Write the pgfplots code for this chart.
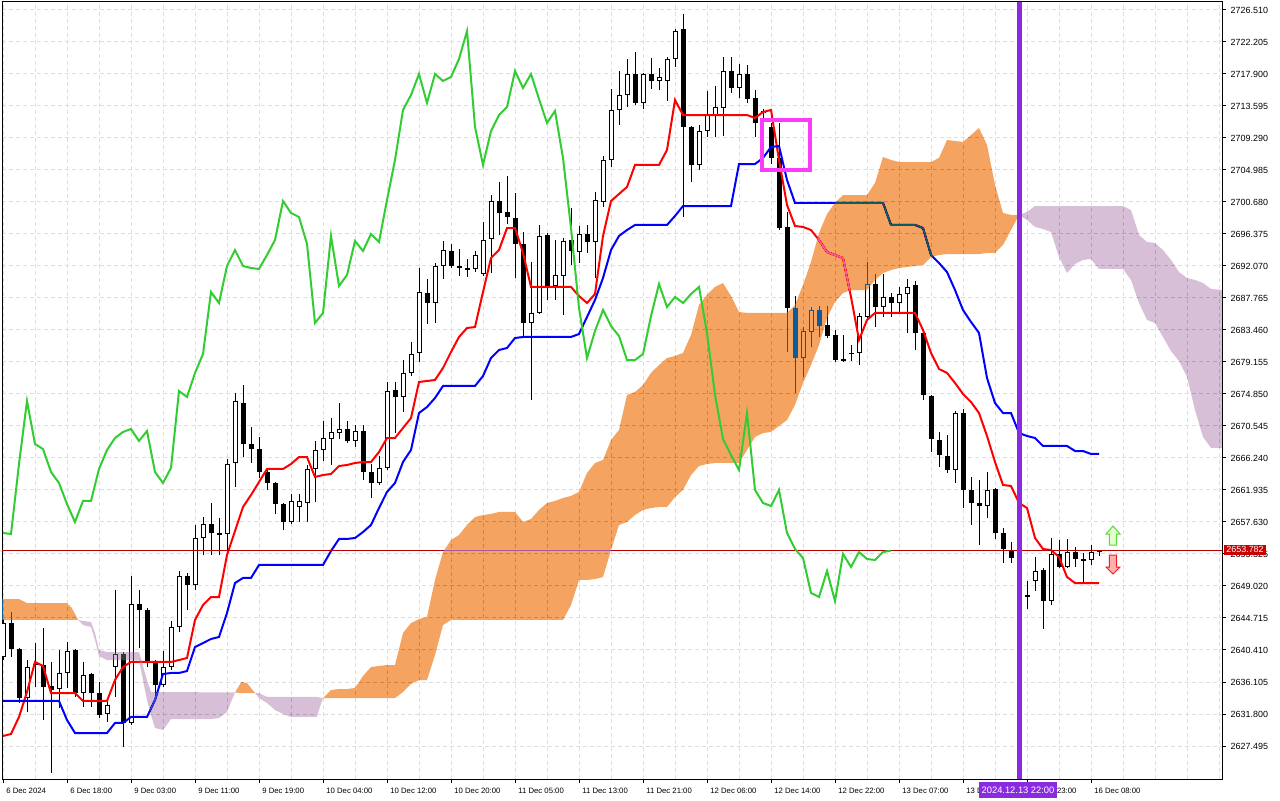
\documentclass[border=0pt]{standalone}
\usepackage{fontspec}
\setmainfont{Liberation Sans}
\usepackage{pgfplots}
\pgfplotsset{compat=1.18}
\usepackage{pgfplotstable}
\definecolor{tenkan}{RGB}{255,0,0}
\definecolor{kijun}{RGB}{0,0,255}
\definecolor{chikou}{RGB}{50,205,50}
\definecolor{xorOrange}{RGB}{11,91,159}
\definecolor{xorThistle}{RGB}{39,64,39}
\definecolor{gridgray}{RGB}{222,222,222}
\definecolor{bidred}{RGB}{180,0,0}
\definecolor{vline}{RGB}{138,43,226}
\definecolor{boxpink}{RGB}{250,60,250}

\pgfplotstableread{
i O H L C
0 2639.47 2644.58 2639.06 2644.04
1 2644.04 2645.52 2639.47 2640.54
2 2640.54 2640.68 2633.28 2633.95
3 2633.95 2639.06 2632.07 2638.12
4 2638.39 2641.35 2635.43 2638.53
5 2638.39 2643.37 2630.99 2635.43
6 2635.57 2638.80 2623.86 2635.03
7 2635.16 2640.41 2632.61 2637.32
8 2637.32 2641.49 2635.30 2640.28
9 2640.41 2640.54 2634.09 2634.62
10 2634.62 2638.80 2632.74 2637.05
11 2637.18 2637.32 2632.74 2634.62
12 2634.62 2636.11 2631.26 2631.67
13 2631.80 2633.55 2630.72 2633.01
14 2638.12 2648.48 2634.09 2639.87
15 2639.87 2640.14 2627.36 2630.59
16 2630.59 2650.37 2630.32 2646.60
17 2646.60 2648.48 2640.68 2645.79
18 2645.79 2646.06 2638.12 2638.66
19 2638.66 2639.06 2634.36 2635.70
20 2635.70 2640.28 2635.43 2638.12
21 2638.12 2644.31 2637.72 2643.50
22 2643.50 2651.04 2642.83 2650.37
23 2650.37 2650.77 2645.79 2649.16
24 2649.16 2657.23 2648.48 2655.48
25 2655.48 2658.30 2653.19 2657.36
26 2657.36 2660.19 2653.19 2656.15
27 2656.15 2658.17 2653.19 2656.02
28 2656.02 2666.11 2653.59 2665.43
29 2665.57 2674.98 2662.34 2673.91
30 2673.64 2676.06 2666.37 2668.12
31 2668.12 2670.41 2665.57 2667.45
32 2667.45 2669.07 2663.55 2664.36
33 2664.36 2664.63 2661.94 2662.88
34 2662.88 2663.01 2658.71 2660.05
35 2660.05 2660.19 2656.55 2657.63
36 2657.63 2661.40 2657.36 2660.46
37 2659.65 2661.40 2657.63 2660.46
38 2660.19 2665.30 2657.63 2664.76
39 2664.76 2668.53 2660.32 2667.32
40 2667.32 2671.22 2665.84 2668.93
41 2668.80 2671.62 2665.30 2669.74
42 2669.60 2673.64 2668.80 2670.14
43 2670.14 2671.22 2668.26 2668.53
44 2668.53 2670.68 2667.72 2669.87
45 2669.87 2670.68 2663.28 2664.36
46 2664.36 2665.43 2660.86 2662.88
47 2662.88 2666.51 2662.61 2664.90
48 2664.90 2676.47 2664.63 2675.25
49 2675.39 2676.47 2669.60 2674.45
50 2674.45 2679.42 2672.43 2677.68
51 2677.68 2681.85 2677.27 2680.23
52 2680.37 2691.80 2679.16 2688.57
53 2688.44 2690.32 2684.27 2687.09
54 2687.09 2692.47 2684.40 2692.07
55 2692.07 2695.43 2690.32 2694.22
56 2694.09 2695.03 2691.80 2692.07
57 2692.07 2694.36 2690.73 2691.80
58 2691.80 2693.01 2690.59 2691.67
59 2691.67 2694.09 2691.26 2693.55
60 2690.99 2697.99 2690.73 2695.57
61 2695.70 2701.62 2691.13 2700.81
62 2700.81 2703.37 2696.24 2699.20
63 2699.34 2704.18 2697.72 2698.66
64 2698.53 2701.89 2690.46 2695.03
65 2695.03 2696.64 2682.38 2684.40
66 2684.40 2692.61 2674.04 2685.75
67 2685.75 2697.59 2685.61 2696.11
68 2696.24 2696.51 2687.50 2689.38
69 2689.38 2695.57 2687.50 2690.86
70 2690.73 2695.84 2685.48 2695.43
71 2695.57 2699.87 2692.20 2694.09
72 2693.95 2697.45 2692.47 2696.38
73 2696.38 2697.59 2693.82 2695.30
74 2695.30 2702.03 2690.46 2700.95
75 2700.68 2706.87 2700.01 2706.33
76 2706.33 2715.88 2705.39 2713.06
77 2713.06 2718.30 2711.04 2715.07
78 2715.07 2719.92 2713.46 2717.90
79 2717.90 2720.86 2713.73 2714.00
80 2714.00 2718.03 2713.19 2717.90
81 2717.90 2720.05 2715.88 2716.96
82 2716.96 2718.71 2715.75 2717.50
83 2716.96 2720.19 2714.27 2719.92
84 2719.92 2723.95 2718.84 2723.68
85 2723.95 2725.97 2698.66 2710.77
86 2710.77 2710.90 2703.37 2705.66
87 2705.66 2711.04 2704.99 2710.23
88 2710.23 2715.61 2709.42 2712.38
89 2712.38 2716.29 2709.42 2713.46
90 2713.33 2720.19 2709.56 2718.30
91 2718.30 2720.19 2715.34 2716.02
92 2716.02 2719.24 2714.67 2717.90
93 2717.90 2719.11 2714.00 2714.54
94 2714.67 2715.75 2709.42 2711.31
95 2712.65 2713.19 2711.58 2712.92
96 2710.77 2711.31 2705.79 2706.60
97 2706.60 2711.31 2696.91 2697.18
98 2697.32 2699.34 2680.50 2686.42
99 2686.42 2688.03 2674.98 2679.69
100 2679.69 2683.86 2677.14 2683.33
101 2683.19 2686.55 2681.17 2686.15
102 2686.15 2686.69 2682.52 2684.00
103 2684.13 2686.69 2682.38 2682.65
104 2682.79 2683.46 2679.16 2679.42
105 2679.56 2682.79 2679.16 2679.42
106 2680.37 2681.44 2679.29 2680.23
107 2680.37 2685.75 2678.75 2685.34
108 2685.21 2692.61 2685.08 2689.65
109 2689.65 2690.99 2683.86 2686.55
110 2686.55 2690.99 2685.21 2687.90
111 2687.90 2688.44 2685.21 2687.09
112 2687.09 2689.25 2685.75 2688.30
113 2688.30 2690.32 2683.06 2689.25
114 2689.51 2690.05 2680.77 2683.06
115 2683.06 2683.19 2674.04 2674.72
116 2674.58 2674.72 2667.05 2668.80
117 2668.66 2669.74 2665.03 2666.64
118 2666.51 2669.33 2664.22 2664.63
119 2664.63 2672.56 2662.88 2672.29
120 2672.29 2672.83 2659.51 2661.94
121 2661.94 2663.68 2657.23 2660.19
122 2660.19 2663.28 2654.54 2659.78
123 2659.78 2664.36 2658.17 2661.94
124 2662.07 2662.21 2655.34 2656.15
125 2656.15 2656.82 2652.11 2654.00
126 2653.86 2654.94 2652.11 2652.79
127 2652.79 2653.46 2647.41 2648.08
128 2647.81 2649.69 2645.93 2647.54
129 2649.69 2652.92 2648.35 2651.04
130 2651.17 2651.44 2643.24 2647.00
131 2647.00 2655.48 2646.46 2653.33
132 2653.33 2655.21 2651.44 2651.58
133 2651.58 2655.35 2651.44 2653.59
134 2653.59 2654.27 2651.58 2652.65
135 2652.65 2653.46 2649.42 2652.52
136 2652.52 2654.54 2651.85 2653.59
137 2653.59 2653.86 2653.06 2653.78
}\candles

\pgfplotstableread{
x y
0 2628.84
1 2629.11
2 2631.40
3 2634.76
4 2638.80
5 2638.26
6 2634.62
9 2634.62
10 2633.55
13 2633.55
14 2636.37
15 2638.12
16 2638.80
21 2638.80
22 2639.06
23 2639.33
24 2644.45
25 2646.46
26 2647.54
27 2647.54
28 2653.19
29 2656.42
30 2659.65
31 2661.26
32 2663.01
33 2664.76
35 2664.76
36 2665.43
37 2666.37
38 2666.37
39 2663.68
40 2663.95
41 2664.09
42 2665.16
43 2665.30
44 2665.57
45 2665.70
46 2665.70
47 2667.05
48 2668.93
49 2668.93
50 2670.28
51 2671.62
52 2676.47
53 2676.60
54 2676.73
55 2678.35
56 2680.50
57 2682.52
58 2683.73
59 2683.86
60 2688.57
61 2693.15
62 2694.22
63 2697.18
64 2697.18
65 2693.82
66 2689.25
71 2689.25
72 2688.03
73 2687.09
74 2688.30
75 2696.11
76 2700.81
77 2701.76
78 2702.70
79 2705.66
82 2705.66
83 2707.68
84 2714.40
85 2712.38
93 2712.38
94 2711.98
95 2712.79
96 2713.06
97 2706.33
98 2700.28
99 2697.45
100 2697.32
101 2696.91
102 2695.57
103 2693.95
104 2693.55
105 2693.15
106 2687.90
107 2682.12
108 2684.81
109 2685.75
114 2685.75
115 2683.46
116 2680.37
117 2678.21
118 2677.68
119 2676.33
120 2674.85
121 2673.77
122 2672.29
123 2669.20
124 2665.70
125 2662.61
126 2662.47
127 2660.19
128 2659.51
129 2655.48
130 2654.00
131 2653.86
132 2652.92
133 2650.23
134 2649.42
137 2649.42
}\tenkan

\pgfplotstableread{
x y
0 2633.55
7 2633.55
8 2630.99
9 2629.24
13 2629.24
14 2630.59
15 2630.59
16 2631.40
18 2631.40
19 2633.68
20 2637.18
21 2637.32
22 2637.32
23 2637.58
24 2640.81
25 2641.35
26 2641.89
27 2642.16
28 2645.39
29 2649.42
30 2650.10
31 2650.10
32 2651.85
40 2651.85
41 2653.73
42 2655.35
43 2655.35
44 2655.48
45 2656.28
46 2657.23
47 2659.51
48 2661.67
49 2662.88
50 2665.70
51 2667.32
52 2672.29
53 2673.10
54 2674.31
55 2675.93
59 2675.93
60 2677.27
61 2679.69
62 2680.77
63 2681.04
64 2682.38
65 2682.52
71 2682.52
72 2682.92
73 2685.21
74 2687.50
75 2690.46
76 2694.22
77 2696.11
78 2696.91
79 2697.59
83 2697.59
84 2698.80
85 2700.14
91 2700.14
92 2705.79
94 2705.79
95 2706.60
96 2708.08
97 2708.21
98 2703.64
99 2700.55
110 2700.55
111 2697.59
114 2697.59
115 2697.18
116 2693.55
117 2692.47
118 2691.26
119 2688.84
120 2686.15
121 2684.54
122 2683.06
123 2677.00
124 2673.64
125 2672.29
126 2672.29
127 2669.60
128 2669.20
129 2668.93
130 2667.86
133 2667.86
134 2667.18
135 2667.18
136 2666.78
137 2666.78
}\kijun

\begin{document}
\begin{tikzpicture}
\begin{axis}[
  at={(1.5pt,15.75pt)}, anchor=south west,
  scale only axis, width=915pt, height=582.75pt,
  xmin=-0.125, xmax=152.375, ymin=2623.055, ymax=2727.586,
  clip mode=individual,
  axis background/.style={fill=white},
  axis line style={black, line width=0.75pt},
  xtick={0,8,...,136},
  xticklabels={6 Dec 2024, 6 Dec 18:00, 9 Dec 03:00, 9 Dec 11:00, 9 Dec 19:00, 10 Dec 04:00, 10 Dec 12:00, 10 Dec 20:00, 11 Dec 05:00, 11 Dec 13:00, 11 Dec 21:00, 12 Dec 06:00, 12 Dec 14:00, 12 Dec 22:00, 13 Dec 07:00, 13 Dec 15:00, 13 Dec 23:00, 16 Dec 08:00},
  minor xtick={4,12,...,132,140,144,148,152},
  ytick={2627.495,2631.800,2636.105,2640.410,2644.715,2649.020,2653.325,2657.630,2661.935,2666.240,2670.545,2674.850,2679.155,2683.460,2687.765,2692.070,2696.375,2700.680,2704.985,2709.290,2713.595,2717.900,2722.205,2726.510},
  yticklabels={2627.495,2631.800,2636.105,2640.410,2644.715,2649.020,2653.325,2657.630,2661.935,2666.240,2670.545,2674.850,2679.155,2683.460,2687.765,2692.070,2696.375,2700.680,2704.985,2709.290,2713.595,2717.900,2722.205,2726.510},
  xtick pos=left, ytick pos=right, yticklabel pos=right,
  tick align=outside, major tick length=3pt, minor tick length=0pt,
  tick style={black, line width=0.75pt},
  grid=both,
  major grid style={gridgray, dash pattern=on 3pt off 2.25pt, line width=0.75pt},
  minor grid style={gridgray, dash pattern=on 3pt off 2.25pt, line width=0.75pt},
  xticklabel style={font=\fontsize{5.8}{7}\selectfont, anchor=north west, xshift=-1pt, text=black},
  yticklabel style={font=\fontsize{6.7}{8}\selectfont, anchor=west, text=black},
]
% candle wicks
\addplot[draw=none, mark=none, error bars/.cd, y dir=both, y explicit, error mark=none,
  error bar style={draw=black, line width=0.75pt}]
  table[x=i, y expr={(\thisrow{H}+\thisrow{L})/2}, y error expr={(\thisrow{H}-\thisrow{L})/2}] {\candles};
% candle bodies (outline / black body)
\addplot[draw=none, mark=none, error bars/.cd, y dir=both, y explicit, error mark=none,
  error bar style={draw=black, line width=3.75pt}]
  table[x=i, y expr={(\thisrow{O}+\thisrow{C})/2}, y error expr={max(abs(\thisrow{O}-\thisrow{C})/2,0.07)}] {\candles};
% hollow interior of rising candles
\addplot[draw=none, mark=none, error bars/.cd, y dir=both, y explicit, error mark=none,
  error bar style={draw=white, line width=2.25pt}]
  table[x=i, y expr={(\thisrow{O}+\thisrow{C})/2}, y error expr={(\thisrow{C}>\thisrow{O}) ? max((\thisrow{C}-\thisrow{O})/2-0.13,0) : 0}] {\candles};
% Tenkan-sen and Kijun-sen
\addplot[tenkan, line width=1.5pt, mark=none] table[x=x, y=y] {\tenkan};
\addplot[kijun, line width=1.5pt, mark=none] table[x=x, y=y] {\kijun};
% bid line
\addplot[bidred, line width=0.75pt, mark=none] coordinates {(-0.375,2653.782) (152.375,2653.782)};
% Ichimoku cloud (Senkou A / B), each stretch as a polygon: upper edge forward, lower edge back.
% Drawn inverted over what lies beneath, as MT5 does.
\addplot[fill=xorOrange, draw=none, blend mode=difference] coordinates {
 (-0.5,2647.27) (2,2647.27) (3,2646.73) (8,2646.73) (8.6,2646.06) (9.4,2644.45) (-0.5,2644.45)};
\addplot[fill=xorThistle, draw=none, blend mode=difference] coordinates {
 (9.4,2644.45) (10,2644.31) (11,2644.18) (11.5,2642.70) (12,2640.41) (13,2640.14) (17,2640.14)
 (18,2636.37) (18.5,2634.76) (29,2634.70)
 (28,2632.07) (27,2631.26) (26,2631.12) (21,2631.12) (20,2629.65) (19,2629.92) (18.5,2631.67)
 (18,2633.68) (17,2639.06) (13,2639.06) (12,2639.60) (11.5,2641.76) (11,2643.50) (10,2643.77)};
\addplot[fill=xorOrange, draw=none, blend mode=difference] coordinates {
 (29,2634.70) (29.8,2636.11) (30.5,2635.97) (31.5,2634.62) (30.5,2634.62) (29.8,2634.62)};
\addplot[fill=xorThistle, draw=none, blend mode=difference] coordinates {
 (31.5,2634.62) (32,2634.62) (33,2634.09) (39.2,2634.09) (40,2633.95)
 (39.2,2631.40) (36,2631.40) (35,2631.80) (34,2632.34) (33,2633.28) (32,2633.95)};
\addplot[fill=xorOrange, draw=none, blend mode=difference] coordinates {
 (40,2633.95) (41,2635.03) (42,2635.16) (43,2635.16) (44,2635.30) (45,2636.91) (46,2638.12)
 (47,2638.26) (48,2638.39) (49,2638.39) (50,2642.70) (51,2644.04) (52,2644.58) (53,2644.85)
 (54,2649.83) (55,2653.59) (56,2655.21) (57,2655.88) (58,2657.23) (59,2658.30) (60,2658.57)
 (61,2658.71) (62,2658.98) (64,2658.98) (65,2657.63) (66,2658.03) (67,2659.25) (68,2660.19)
 (69,2660.46) (70,2660.86) (71,2661.13) (72,2661.67) (73,2664.22) (74,2665.57) (75,2665.97)
 (76,2668.66) (77,2670.01) (78,2674.72) (79,2675.12) (80,2676.06) (81,2677.68) (82,2678.75)
 (83,2679.69) (84,2679.96) (85,2680.37) (86,2682.79) (87,2686.82) (88,2688.17) (89,2689.25)
 (90,2689.78) (91,2688.03) (92,2685.88) (93,2685.75) (98,2685.75) (99,2686.82) (100,2689.51)
 (101,2692.61) (102,2696.51) (103,2699.06) (104,2700.55) (105,2701.62) (108,2701.62)
 (109,2703.24) (110,2706.74) (111,2706.33) (112,2706.06) (116,2706.06) (117,2706.60)
 (118,2709.02) (119,2708.89) (120,2708.75) (121,2709.69) (122,2710.63) (123,2708.35)
 (124,2702.97) (125,2699.20) (126,2698.93) (127,2698.93)
 (126,2696.91) (125,2694.90) (124,2693.82) (123,2693.82) (122,2693.68) (118,2693.68)
 (117,2693.55) (116,2693.28) (115,2692.20) (114,2692.07) (113,2691.94) (112,2691.80)
 (111,2691.53) (110,2691.13) (109,2690.19) (108,2688.84) (106,2688.84) (105,2688.44)
 (104,2687.23) (103,2685.08) (102,2681.44) (101,2678.75) (100,2676.33) (99,2673.37)
 (98,2671.35) (96,2669.74) (95,2669.60) (94,2669.07) (93,2667.32) (92,2665.57) (89,2665.57)
 (88,2665.43) (87,2665.16) (86,2663.95) (85,2661.94) (84,2660.99) (83,2659.65) (82,2659.65)
 (81,2659.51) (80,2659.25) (79,2658.57) (78,2657.63) (77,2657.23) (76,2653.86) (75,2650.23)
 (74,2649.96) (73,2649.83) (72,2649.83) (71,2646.46) (70,2644.45) (56,2644.45) (55,2643.77)
 (54,2639.74) (53,2636.37) (52,2636.37) (51,2635.84) (50,2634.76) (49,2633.95) (41,2633.95)};
\addplot[fill=xorThistle, draw=none, blend mode=difference] coordinates {
 (127,2698.93) (128,2699.34) (129,2700.14) (140,2700.14) (141,2699.60) (142,2696.24)
 (143,2695.30) (144,2695.16) (145,2694.22) (146,2692.88) (147,2691.26) (148,2690.46)
 (149,2690.19) (150,2689.78) (151,2688.98) (152.5,2688.84)
 (152.5,2667.59) (151,2667.59) (150,2669.07) (149,2672.70) (148,2677.14) (147,2679.29)
 (146,2680.63) (145,2682.52) (144,2684.40) (143,2684.81) (142,2687.09) (141,2690.19)
 (140,2691.67) (137,2691.67) (136,2693.01) (135,2692.88) (134,2692.34) (133,2691.13)
 (132,2693.28) (131,2696.64) (130,2697.05) (129,2697.32) (128,2698.26)};
% Chikou span: closes shifted 26 bars back
\addplot[chikou, line width=1.5pt, mark=none, skip coords between index={0}{26}]
  table[x expr=\thisrow{i}-26, y=C] {\candles};
% chart objects
\draw[boxpink, line width=3pt] (axis cs:94.875,2711.71) rectangle (axis cs:100.875,2704.99);
\draw[vline, line width=3.75pt] (axis cs:127,2623.055) -- (axis cs:127,2727.586);
\end{axis}
% arrows
\draw[draw={rgb,255:red,90;green,215;blue,60}, fill={rgb,255:red,225;green,255;blue,205}, line width=0.75pt]
  (834.75pt,205.5pt) -- (840pt,199.5pt) -- (837.4pt,199.5pt) -- (837.4pt,191.25pt) -- (832.1pt,191.25pt) -- (832.1pt,199.5pt) -- (829.5pt,199.5pt) -- cycle;
\draw[draw={rgb,255:red,240;green,30;blue,30}, fill={rgb,255:red,255;green,175;blue,175}, line width=0.75pt]
  (832.1pt,183.75pt) -- (837.4pt,183.75pt) -- (837.4pt,174.75pt) -- (840pt,174.75pt) -- (834.75pt,169.5pt) -- (829.5pt,174.75pt) -- (832.1pt,174.75pt) -- cycle;
% current price label
\node[fill={rgb,255:red,200;green,0;blue,0}, text=white, inner xsep=1.6pt, inner ysep=0pt, minimum height=7.5pt, anchor=west, font=\fontsize{6.7}{8}\selectfont] at (918pt,187.6pt) {2653.782};
% crosshair date label
\node[fill=vline, text=white, inner sep=0pt, minimum width=58.5pt, minimum height=12.5pt, font=\fontsize{7}{8}\selectfont] at (763.5pt,7.6pt) {2024.12.13 22:00};
\pgfresetboundingbox
\useasboundingbox (0,0) rectangle (960pt,600pt);
\end{tikzpicture}
\end{document}
